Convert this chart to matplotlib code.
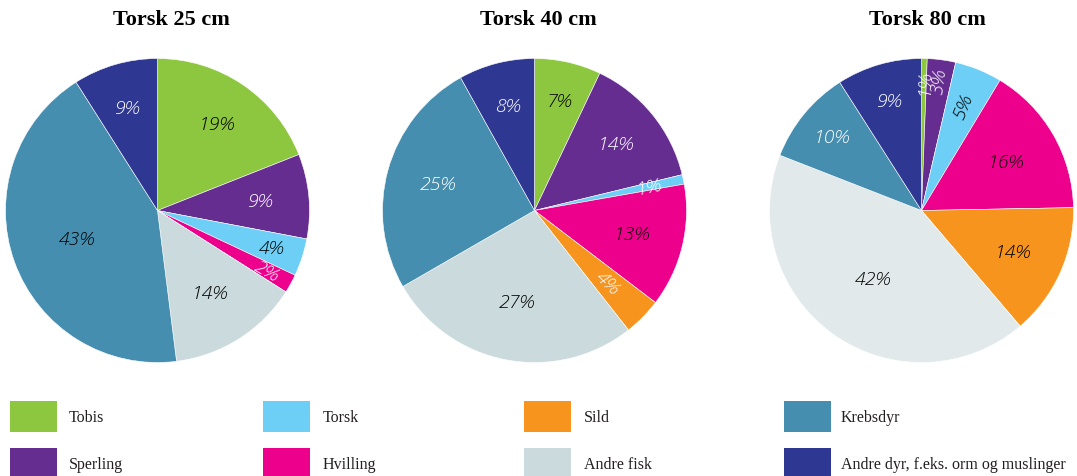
import numpy as np
import matplotlib
matplotlib.use("Agg")
import matplotlib.pyplot as plt
from matplotlib.patches import Rectangle

# ---------------- data ----------------
categories = ["Tobis", "Sperling", "Torsk", "Hvilling", "Sild",
              "Andre fisk", "Krebsdyr", "Andre dyr, f.eks. orm og muslinger"]
titles = ["Torsk 25 cm", "Torsk 40 cm", "Torsk 80 cm"]
torsk25 = [19, 9, 4, 2, 0, 14, 43, 9]
torsk40 = [7, 14, 1, 13, 4, 27, 25, 8]
torsk80 = [0.6, 3, 5, 16, 14, 42, 10, 9]
series = [torsk25, torsk40, torsk80]

# ---------------- style ----------------
colors = ["#8dc63f", "#662d91", "#6dcff6", "#ec008c", "#f7941d",
          "#cbdadd", "#468eaf", "#2e3792"]
andre_fisk_pie3 = "#e1e9ea"
W, H = 1077, 477
centers = [(157.5, 211.5), (534.5, 211.5), (921.5, 211.5)]
radius_px = 152
title_x = [171, 538, 927]

label_r = [
    [0.69, 0.68, 0.79, 0.82, 0.7, 0.64, 0.56, 0.70],
    [0.74, 0.69, 0.77, 0.66, 0.67, 0.61, 0.66, 0.71],
    [0.85, 0.86, 0.74, 0.64, 0.66, 0.55, 0.76, 0.75],
]
label_col = [
    ["k", "w", "k", "w", "w", "k", "k", "w"],
    ["k", "w", "w", "k", "w", "k", "w", "w"],
    ["w", "w", "k", "k", "k", "k", "w", "w"],
]
rotated = [
    [False, False, False, True, False, False, False, False],
    [False, False, True, False, True, False, False, False],
    [True, True, True, False, False, False, False, False],
]

fig = plt.figure(figsize=(W / 100, H / 100), dpi=100)
fig.patch.set_facecolor("white")

for i, vals in enumerate(series):
    cx, cy = centers[i]
    ax = fig.add_axes([(cx - radius_px) / W, (H - cy - radius_px) / H,
                       2 * radius_px / W, 2 * radius_px / H])
    cols = list(colors)
    if i == 2:
        cols[5] = andre_fisk_pie3
    wedges, _ = ax.pie(vals, colors=cols, startangle=90, counterclock=False,
                       radius=1.0,
                       wedgeprops=dict(linewidth=0.4, edgecolor="white"))
    for j, w in enumerate(wedges):
        if vals[j] <= 0:
            continue
        mid = np.deg2rad((w.theta1 + w.theta2) / 2)
        r = label_r[i][j]
        x, y = r * np.cos(mid), r * np.sin(mid)
        rot = 0
        if rotated[i][j]:
            rot = np.rad2deg(mid)
            rot = (rot + 180) % 360 - 180
            if rot > 90:
                rot -= 180
            elif rot < -90:
                rot += 180
        ax.text(x, y, "%.0f%%" % vals[j], ha="center", va="center",
                rotation=rot, rotation_mode="anchor",
                fontsize=14, style="italic", fontweight="light",
                family="Open Sans", color=label_col[i][j])
    ax.set_xlim(-1, 1)
    ax.set_ylim(-1, 1)
    ax.set_aspect("equal")
    ax.axis("off")
    fig.text(title_x[i] / W, 1 - 20 / H, titles[i], ha="center", va="center",
             fontsize=16, fontweight="bold", family="Liberation Serif")

# ---------------- legend ----------------
leg_patch_x = [10, 263, 524, 784]
leg_text_x = [69, 323, 584, 841]
leg_rows_top = [402, 449]
patch_w, patch_h = 47, 31
for k, name in enumerate(categories):
    col = k // 2
    row = k % 2
    top = leg_rows_top[row]
    fig.patches.append(Rectangle((leg_patch_x[col] / W, 1 - (top + patch_h) / H),
                                 patch_w / W, patch_h / H,
                                 transform=fig.transFigure, facecolor=colors[k],
                                 edgecolor="none"))
    fig.text(leg_text_x[col] / W, 1 - (top + patch_h / 2 + 1) / H, name,
             ha="left", va="center", fontsize=11.5, family="Liberation Serif",
             color="#231f20")

fig.savefig("out.png", dpi=100, facecolor="white")
